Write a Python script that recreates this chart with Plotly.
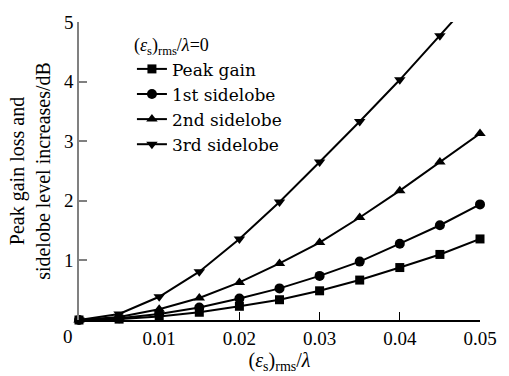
import plotly.graph_objects as go

x_vals = [0.0, 0.005, 0.01, 0.015, 0.02, 0.025, 0.03, 0.035, 0.04, 0.045, 0.05]
peak_gain = [0.0, 0.015, 0.06, 0.13, 0.23, 0.34, 0.49, 0.67, 0.88, 1.10, 1.36]
sidelobe1 = [0.0, 0.03, 0.10, 0.21, 0.36, 0.53, 0.74, 0.98, 1.28, 1.59, 1.94]
sidelobe2 = [0.0, 0.05, 0.18, 0.37, 0.63, 0.95, 1.30, 1.72, 2.17, 2.65, 3.13]
sidelobe3 = [0.0, 0.10, 0.39, 0.81, 1.36, 1.98, 2.65, 3.33, 4.03, 4.77, 5.52]

series_names = ["Peak gain", "1st sidelobe", "2nd sidelobe", "3rd sidelobe"]
x_ticks = [0.01, 0.02, 0.03, 0.04, 0.05]
x_ticktext = ["0.01", "0.02", "0.03", "0.04", "0.05"]
y_ticks = [1, 2, 3, 4, 5]

FONT = "Liberation Serif"
LEG_FONT = "DejaVu Serif"
FS = 19

fig = go.Figure()
specs = [
    (peak_gain, "square", 9, False),
    (sidelobe1, "circle", 10, False),
    (sidelobe2, "triangle-up", 10, False),
    (sidelobe3, "triangle-down", 10, True),
]
for name, (ys, sym, sz, clip) in zip(series_names, specs):
    fig.add_trace(go.Scatter(
        x=x_vals, y=ys, name=name, mode="lines+markers",
        line=dict(color="black", width=2),
        marker=dict(symbol=sym, size=sz, color="black"),
        cliponaxis=clip,
    ))

fig.update_layout(
    width=509, height=376,
    margin=dict(l=79, r=18, t=13, b=55),
    paper_bgcolor="white", plot_bgcolor="white",
    font=dict(family=FONT, size=FS, color="black"),
    showlegend=True,
    legend=dict(
        x=0.132, y=0.98, xanchor="left", yanchor="top",
        bgcolor="rgba(0,0,0,0)", borderwidth=0,
        itemwidth=30, tracegroupgap=0,
        font=dict(family=LEG_FONT, size=17, color="black"),
        title=dict(text="(<i>ε</i><sub>s</sub>)<sub>rms</sub>/<i>λ</i>=0",
                   font=dict(family=FONT, size=18, color="black"), side="top"),
    ),
    xaxis=dict(
        range=[0, 0.05], tickvals=x_ticks, ticktext=x_ticktext,
        ticks="inside", ticklen=8, tickcolor="black", tickwidth=1,
        showline=True, linecolor="black", linewidth=1.5,
        showgrid=False, zeroline=False,
        tickfont=dict(family=FONT, size=FS, color="black"),
        title=dict(text="(<i>ε</i><sub>s</sub>)<sub>rms</sub>/<i>λ</i>",
                   font=dict(family=FONT, size=20, color="black"), standoff=1),
    ),
    yaxis=dict(
        range=[0, 5], tickvals=y_ticks,
        ticks="inside", ticklen=8, tickcolor="#808080", tickwidth=1.5,
        showline=True, linecolor="#808080", linewidth=1.5,
        showgrid=False, zeroline=False,
        tickfont=dict(family=FONT, size=FS, color="black"),
        title=dict(text="Peak gain loss and<br>sidelobe level increases/dB",
                   font=dict(family=FONT, size=20, color="black"), standoff=8),
    ),
    annotations=[dict(
        x=0, y=0, xref="x", yref="y", text="0", showarrow=False,
        xanchor="right", yanchor="top", xshift=-4, yshift=-4,
        font=dict(family=FONT, size=FS, color="black"),
    )],
)

fig.write_html("out.html")
